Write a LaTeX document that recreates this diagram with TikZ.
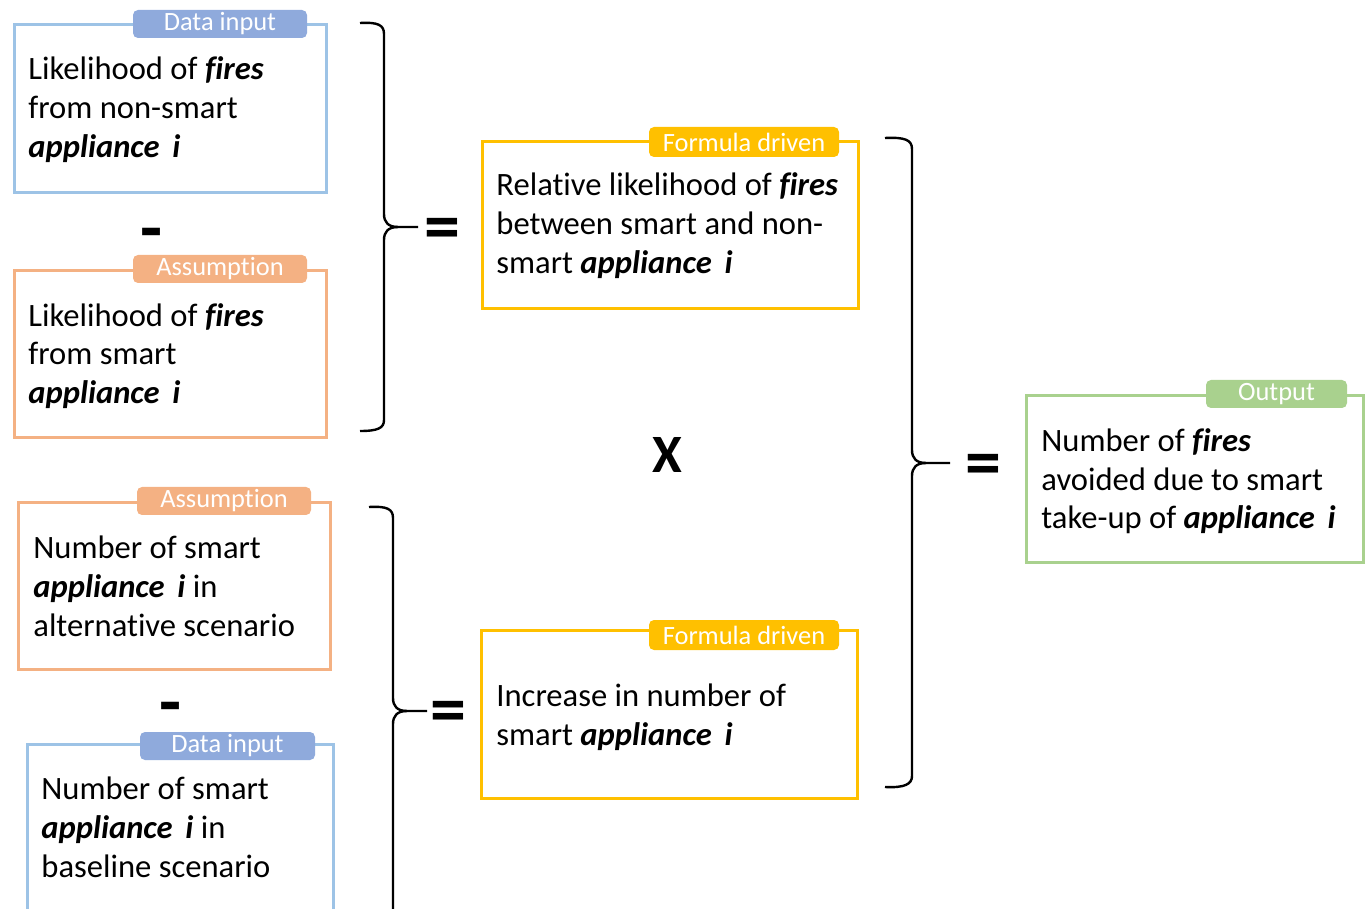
\documentclass[tikz,border=0pt]{standalone}
\usepackage{fontspec}
\setmainfont{Carlito}[RawFeature=-liga]
\definecolor{bluebd}{HTML}{9DC3E6}
\definecolor{bluetag}{HTML}{8FAADC}
\definecolor{orng}{HTML}{F4B183}
\definecolor{yel}{HTML}{FFC000}
\definecolor{grn}{HTML}{A9D18E}
\newcommand{\bi}[1]{\textbf{\textit{#1}}}
\begin{document}
\begin{tikzpicture}[x=0.5pt,y=-0.5pt,
  frame/.style={draw, line width=1.5pt, fill=white, anchor=north west, inner sep=0pt},
  tag/.style={fill, rounded corners=2.5pt, text=white, inner sep=0pt, minimum height=14pt, font=\fontsize{13.2}{14}\selectfont},
  body/.style={anchor=base west, align=left, inner sep=0pt, font=\fontsize{16.3}{19.5}\selectfont},
  brace/.style={line width=1.2pt},
  sign/.style={font=\bfseries\fontsize{36}{40}\selectfont, inner sep=0pt},
  times/.style={font=\bfseries\fontsize{27}{30}\selectfont, inner sep=0pt}
]
\useasboundingbox (0,0) rectangle (1367,909);

% boxes
\node[frame, draw=bluebd, minimum width=156pt, minimum height=84pt] (b1) at (13,23) {};
\node[frame, draw=orng, minimum width=156pt, minimum height=83.5pt] (b2) at (13,269) {};
\node[frame, draw=orng, minimum width=156pt, minimum height=83.5pt] (b3) at (17,501) {};
\node[frame, draw=bluebd, minimum width=153pt, minimum height=100pt] (b4) at (26,743) {};
\node[frame, draw=yel, minimum width=188pt, minimum height=83.5pt] (b5) at (480.5,140) {};
\node[frame, draw=yel, minimum width=188pt, minimum height=84pt] (b6) at (479.5,629) {};
\node[frame, draw=grn, minimum width=168.5pt, minimum height=83.5pt] (b7) at (1025,394) {};

% tags
\node[tag, fill=bluetag, minimum width=87pt] (t1) at (220,24) {Data input};
\node[tag, fill=orng, minimum width=87pt] (t2) at (220,269) {Assumption};
\node[tag, fill=orng, minimum width=87pt] (t3) at (224,501) {Assumption};
\node[tag, fill=bluetag, minimum width=87.5pt] (t4) at (227.5,746) {Data input};
\node[tag, fill=yel, minimum width=95pt, minimum height=15pt] (t5) at (744,142) {Formula driven};
\node[tag, fill=yel, minimum width=95pt, minimum height=15pt] (t6) at (744,635) {Formula driven};
\node[tag, fill=grn, minimum width=70.5pt] (t7) at (1276.5,394) {Output};

% texts (anchored at the baseline of the last line)
\node[body] (x1) at (28,158) {Likelihood of \bi{fires}\\from non-smart\\\bi{appliance\, i}};
\node[body] (x2) at (28,404) {Likelihood of \bi{fires}\\from smart\\\bi{appliance\, i}};
\node[body] (x3) at (33,636) {Number of smart\\\bi{appliance\, i} in\\alternative scenario};
\node[body] (x4) at (41,877) {Number of smart\\\bi{appliance\, i} in\\baseline scenario};
\node[body] (x5) at (496,274) {Relative likelihood of \bi{fires}\\between smart and non-\\smart \bi{appliance\, i}};
\node[body] (x6) at (496,745) {Increase in number of\\smart \bi{appliance\, i}};
\node[body] (x7) at (1041,529) {Number of \bi{fires}\\avoided due to smart\\take-up of \bi{appliance\, i}};

% braces
\coordinate (p1) at (418,227);
\draw[brace] (360,23) .. controls (378,22) and (384,25) .. (384,34) -- (384,214) .. controls (384,222) and (388,227) .. (398,227) -- (p1);
\draw[brace] (398,227) .. controls (388,227) and (384,232) .. (384,240) -- (384,420) .. controls (384,428) and (378,431) .. (360,431);

\coordinate (p2) at (427,711);
\draw[brace] (369,507) .. controls (387,506) and (393,509) .. (393,518) -- (393,698) .. controls (393,706) and (397,711) .. (407,711) -- (p2);
\draw[brace] (407,711) .. controls (397,711) and (393,716) .. (393,724) -- (393,930);

\coordinate (p3) at (950,463);
\draw[brace] (885,138) .. controls (905,137) and (912,140) .. (912,149) -- (912,450) .. controls (912,458) and (916,463) .. (926,463) -- (p3);
\draw[brace] (926,463) .. controls (916,463) and (912,468) .. (912,476) -- (912,776) .. controls (912,784) and (905,788) .. (885,787);

% signs
\node[sign] (eq1) at (442,234) {=};
\node[sign] (eq2) at (448,717) {=};
\node[sign] (eq3) at (983,470) {=};
\node[sign] (m1) at (152,240) {-};
\node[sign] (m2) at (171,714) {-};
\node[times] (mul) at (667,455) {X};
\end{tikzpicture}
\end{document}
